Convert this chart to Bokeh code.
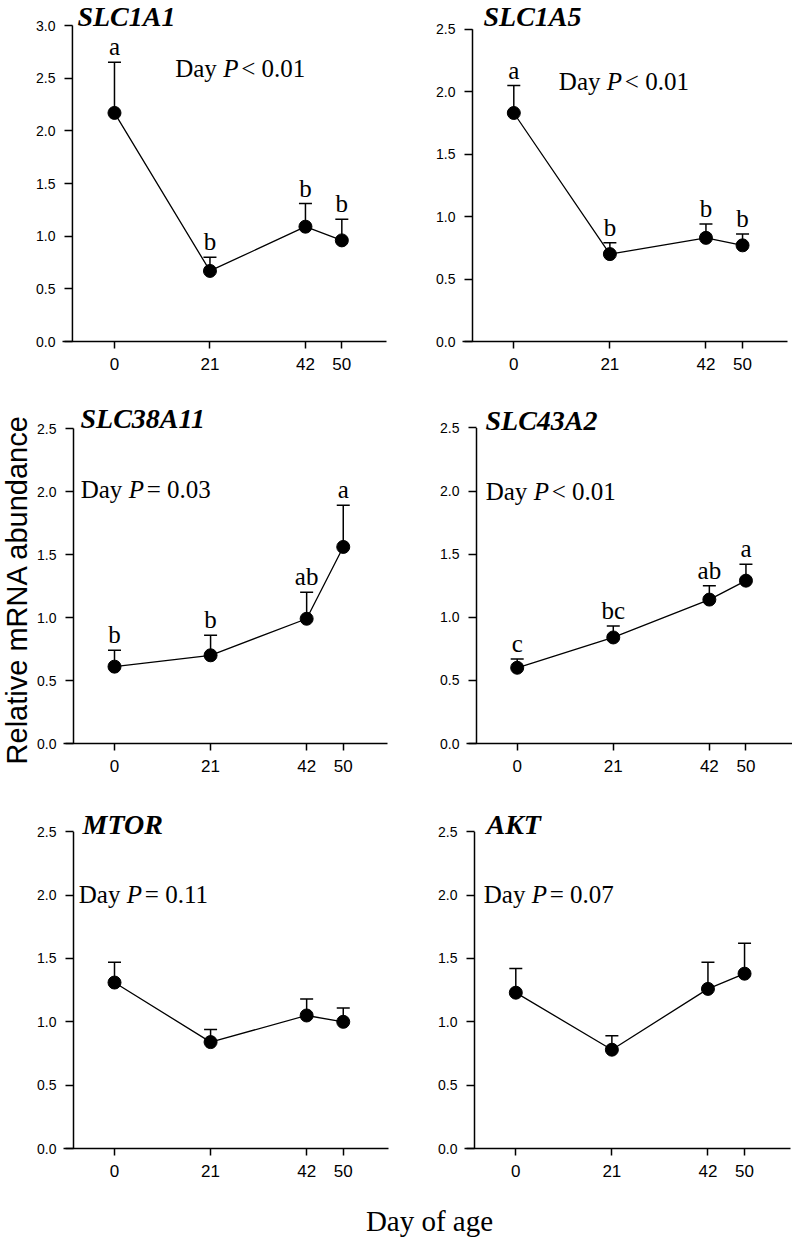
import math
from bokeh.plotting import figure
from bokeh.models import (Range1d, FixedTicker, PrintfTickFormatter, Whisker, TeeHead,
                          ColumnDataSource, Label, LabelSet)
from bokeh.layouts import column, row
from bokeh.embed import file_html
from bokeh.resources import INLINE

# ---------------- data ----------------
days = [0, 21, 42, 50]

genes = ["SLC1A1", "SLC1A5", "SLC38A11", "SLC43A2", "MTOR", "AKT"]

slc1a1_mean = [2.17, 0.67, 1.09, 0.96]
slc1a1_upper = [2.65, 0.80, 1.31, 1.16]
slc1a1_letters = ["a", "b", "b", "b"]

slc1a5_mean = [1.83, 0.70, 0.83, 0.77]
slc1a5_upper = [2.05, 0.79, 0.94, 0.86]
slc1a5_letters = ["a", "b", "b", "b"]

slc38a11_mean = [0.61, 0.70, 0.99, 1.56]
slc38a11_upper = [0.74, 0.86, 1.20, 1.89]
slc38a11_letters = ["b", "b", "ab", "a"]

slc43a2_mean = [0.60, 0.84, 1.14, 1.29]
slc43a2_upper = [0.67, 0.93, 1.25, 1.42]
slc43a2_letters = ["c", "bc", "ab", "a"]

mtor_mean = [1.31, 0.84, 1.05, 1.00]
mtor_upper = [1.47, 0.94, 1.18, 1.11]
mtor_letters = ["", "", "", ""]

akt_mean = [1.23, 0.78, 1.26, 1.38]
akt_upper = [1.42, 0.89, 1.47, 1.62]
akt_letters = ["", "", "", ""]

p_values = ["< 0.01", "< 0.01", "= 0.03", "< 0.01", "= 0.11", "= 0.07"]
y_tops = [3.0, 2.5, 2.5, 2.5, 2.5, 2.5]

means = [slc1a1_mean, slc1a5_mean, slc38a11_mean, slc43a2_mean, mtor_mean, akt_mean]
uppers = [slc1a1_upper, slc1a5_upper, slc38a11_upper, slc43a2_upper, mtor_upper, akt_upper]
letters = [slc1a1_letters, slc1a5_letters, slc38a11_letters, slc43a2_letters,
           mtor_letters, akt_letters]

# ---------------- layout / style (page pixels) ----------------
K = 4.575            # px per day
EXT = 10             # x-axis line extends this far left of the y-axis
SANS = "Liberation Sans"
SERIF = "Liberation Serif"
MID_SERIF = 0.3375   # baseline -> middle of text box, in em (serif)
MID_SANS = 0.3465
TITLE_FS = 28
P_FS = 25
YLAB_W = 33
COL_X = [YLAB_W, 400]
COL_W = [400 - YLAB_W, 392]
ROW_Y = [0, 385, 790]
ROW_H = [385, 405, 402]

# per panel: column, row, y-axis x, day-0 x, x-axis end, top-tick y, zero y,
#            title dx, title dy (baseline above top tick), P-text x (days), P-text y (value)
specs = [
    (0, 0, 70.0, 112.3, 386.0, 25.0, 341.0, 5, -0.5, 13.35, 2.516),
    (1, 0, 472.0, 513.3, 787.0, 29.3, 343.3, 11, 3.8, 9.85, 2.017),
    (0, 1, 72.7, 114.0, 386.7, 427.7, 742.7, 7, 1.0, -7.4, 1.952),
    (1, 1, 476.0, 516.7, 791.7, 427.7, 743.3, 9, -1.6, -6.9, 1.932),
    (0, 2, 72.7, 114.0, 388.0, 831.0, 1147.7, 9, -1.7, -7.8, 1.942),
    (1, 2, 474.0, 515.3, 790.0, 831.0, 1147.7, 12, -2.3, -7.0, 1.942),
]

figs = []
for i, g in enumerate(genes):
    c, r, ax_x, d0_x, end_x, top_y, zero_y, tdx, tdy, px, py = specs[i]
    W, H = COL_W[c], ROW_H[r]
    cx0, cy0 = COL_X[c], ROW_Y[r]
    bl = int(round(ax_x - EXT - cx0))
    br = int(round(cx0 + W - end_x))
    bb = int(round(cy0 + H - zero_y))
    frame_l = cx0 + bl
    frame_r = cx0 + W - br
    x_start = (frame_l - d0_x) / K
    x_end = x_start + (frame_r - frame_l) / K
    yaxis_at = x_start + EXT / K
    top = y_tops[i]
    ppu = (zero_y - top_y) / top
    y_end = (H - bb) / ppu

    p = figure(width=W, height=H, output_backend="svg", toolbar_location=None,
               x_range=Range1d(x_start, x_end), y_range=Range1d(0, y_end),
               min_border_left=bl, min_border_right=br, min_border_top=0,
               min_border_bottom=bb)
    p.xgrid.visible = False
    p.ygrid.visible = False
    p.outline_line_color = None
    p.background_fill_color = "white"
    p.border_fill_color = "white"

    xa = p.xaxis[0]
    xa.ticker = FixedTicker(ticks=days)
    xa.axis_line_width = 1.5
    xa.major_tick_line_width = 1.5
    xa.major_tick_out = 7
    xa.major_tick_in = 0
    xa.minor_tick_out = 0
    xa.minor_tick_in = 0
    xa.major_label_standoff = 9
    xa.major_label_text_font = SANS
    xa.major_label_text_font_size = "17px"
    xa.major_label_text_color = "black"

    ya = p.yaxis[0]
    n = int(round(top / 0.5))
    yticks = [0.5 * k for k in range(n + 1)]
    ya.ticker = FixedTicker(ticks=yticks)
    ya.formatter = PrintfTickFormatter(format="%.1f")
    ya.axis_line_color = None
    ya.major_tick_line_width = 1.5
    ya.major_tick_in = EXT
    ya.major_tick_out = -2
    ya.minor_tick_out = 0
    ya.minor_tick_in = 0
    ya.major_label_standoff = 7
    ya.major_label_text_font = SANS
    ya.major_label_text_font_size = "14px"
    ya.major_label_text_color = "black"

    # y-axis line (offset from the frame edge, spanning the tick range)
    axsrc = ColumnDataSource(dict(x0=[yaxis_at], y0=[yticks[0]], x1=[yaxis_at], y1=[yticks[-1]]))
    p.segment("x0", "y0", "x1", "y1", source=axsrc, line_color="black", line_width=1.5)

    src = ColumnDataSource(dict(x=days, mean=means[i], upper=uppers[i], letter=letters[i]))
    p.line("x", "mean", source=src, line_color="black", line_width=1.3)
    p.add_layout(Whisker(source=src, base="x", lower="mean", upper="upper",
                         dimension="height", line_color="black", line_width=1.5,
                         upper_head=TeeHead(size=13, line_color="black", line_width=1.5),
                         lower_head=None))
    p.scatter("x", "mean", source=src, size=13, fill_color="black", line_color="black")
    p.add_layout(LabelSet(x="x", y="upper", text="letter", source=src,
                          text_align="center", text_baseline="alphabetic", y_offset=7,
                          text_font=SERIF, text_font_size="25px", text_color="black"))

    # gene title
    p.add_layout(Label(x=yaxis_at, y=top, x_offset=tdx,
                       y_offset=tdy + MID_SERIF * TITLE_FS, text=g,
                       text_font=SERIF, text_font_style="bold italic",
                       text_font_size=f"{TITLE_FS}px", text_baseline="middle",
                       text_color="black"))
    # Day P value
    pm = MID_SERIF * P_FS
    p.add_layout(Label(x=px, y=py, y_offset=pm, text="Day", text_font=SERIF,
                       text_font_size=f"{P_FS}px", text_baseline="middle",
                       text_color="black"))
    p.add_layout(Label(x=px, y=py, x_offset=48, y_offset=pm, text="P", text_font=SERIF,
                       text_font_style="italic", text_font_size=f"{P_FS}px",
                       text_baseline="middle", text_color="black"))
    p.add_layout(Label(x=px, y=py, x_offset=66, y_offset=pm, text=p_values[i],
                       text_font=SERIF, text_font_size=f"{P_FS}px",
                       text_baseline="middle", text_color="black"))
    figs.append(p)

# y-axis title strip
YL_FS = 29
yl_baseline = YLAB_W - 0.212 * YL_FS - 0.4
ylab = figure(width=YLAB_W, height=sum(ROW_H), output_backend="svg", toolbar_location=None,
              x_range=Range1d(0, YLAB_W), y_range=Range1d(0, sum(ROW_H)),
              x_axis_type=None, y_axis_type=None,
              min_border_left=0, min_border_right=0, min_border_top=0, min_border_bottom=0)
ylab.xgrid.visible = False
ylab.ygrid.visible = False
ylab.outline_line_color = None
ylab.add_layout(Label(x=yl_baseline - MID_SANS * YL_FS, y=sum(ROW_H) - 589,
                      text="Relative mRNA abundance",
                      angle=math.pi / 2, text_font=SANS, text_font_size=f"{YL_FS}px",
                      text_align="center", text_baseline="middle", text_color="black"))

# x-axis title strip
XL_H = 47
XL_FS = 29
xl = figure(width=YLAB_W + sum(COL_W), height=XL_H, output_backend="svg", toolbar_location=None,
            x_range=Range1d(0, YLAB_W + sum(COL_W)), y_range=Range1d(0, XL_H),
            x_axis_type=None, y_axis_type=None,
            min_border_left=0, min_border_right=0, min_border_top=0, min_border_bottom=0)
xl.xgrid.visible = False
xl.ygrid.visible = False
xl.outline_line_color = None
xl.add_layout(Label(x=429, y=XL_H - (1230 - sum(ROW_H)) + MID_SERIF * XL_FS,
                    text="Day of age", text_font=SERIF, text_font_size=f"{XL_FS}px",
                    text_align="center", text_baseline="middle", text_color="black"))

panels = column(row(figs[0], figs[1]), row(figs[2], figs[3]), row(figs[4], figs[5]))
layout = column(row(ylab, panels), xl)

open("out.html", "w").write(file_html(layout, INLINE))
